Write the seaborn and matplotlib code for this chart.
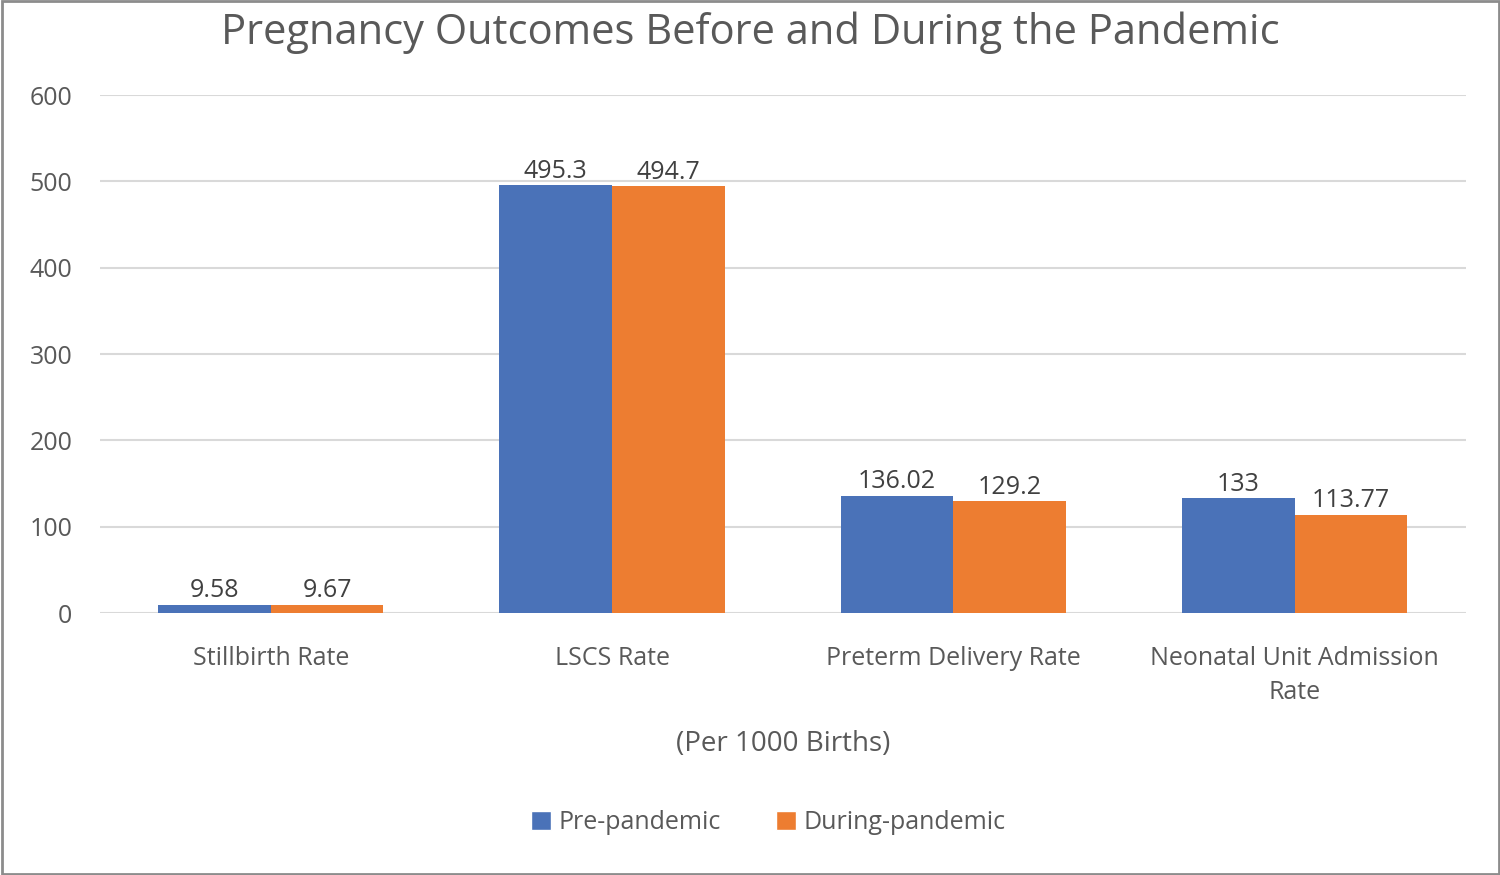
import seaborn as sns
import matplotlib.pyplot as plt
import pandas as pd
from matplotlib.patches import Patch

categories = ["Stillbirth Rate", "LSCS Rate", "Preterm Delivery Rate", "Neonatal Unit Admission\nRate"]
pre_pandemic = [9.58, 495.3, 136.02, 133]
during_pandemic = [9.67, 494.7, 129.2, 113.77]
series_names = ["Pre-pandemic", "During-pandemic"]
colors = ["#4A72B8", "#ED7D31"]

df = pd.DataFrame({
    "category": categories * 2,
    "value": pre_pandemic + during_pandemic,
    "series": [series_names[0]] * 4 + [series_names[1]] * 4,
})

sns.set_style("white")
plt.rcParams["font.family"] = ["Open Sans", "DejaVu Sans"]
txt = "#595959"

fig = plt.figure(figsize=(15, 8.75), dpi=100)
ax = fig.add_axes([0.0667, 0.2994, 0.9103, 0.592])
sns.barplot(data=df, x="category", y="value", hue="series", palette=colors,
            width=0.66, ax=ax, legend=False, saturation=1, errorbar=None,
            linewidth=0)

for cont in ax.containers:
    labels = [f"{v:g}" for v in cont.datavalues]
    ax.bar_label(cont, labels=labels, padding=1, fontsize=18, color="#404040")

ax.set_ylim(0, 600)
ax.set_yticks(range(0, 601, 100))
ax.yaxis.grid(True, color="#D9D9D9", linewidth=1.5)
ax.set_axisbelow(True)
for s in ax.spines.values():
    s.set_visible(False)
ax.tick_params(axis="both", length=0, labelsize=18, labelcolor=txt)
ax.tick_params(axis="x", pad=24)
ax.tick_params(axis="y", pad=20)
for lbl in ax.get_xticklabels():
    lbl.set_linespacing(1.45)
ax.set_ylabel("")
ax.set_xlabel("(Per 1000 Births)", fontsize=20, color=txt, labelpad=18)
fig.suptitle("Pregnancy Outcomes Before and During the Pandemic",
             fontsize=30, color=txt, x=0.5, y=0.962, va="center")

handles = [Patch(facecolor=c, label=n) for c, n in zip(colors, series_names)]
fig.legend(handles=handles, loc="center", bbox_to_anchor=(0.512, 0.06), ncol=2,
           frameon=False, fontsize=18, labelcolor=txt, handlelength=0.8,
           handleheight=0.8, handletextpad=0.3, columnspacing=2.2)

fig.add_artist(plt.Rectangle((0.001, 0.001), 0.998, 0.998, transform=fig.transFigure,
                             fill=False, edgecolor="#8C8C8C", linewidth=2))

fig.savefig("out.png", dpi=100)
